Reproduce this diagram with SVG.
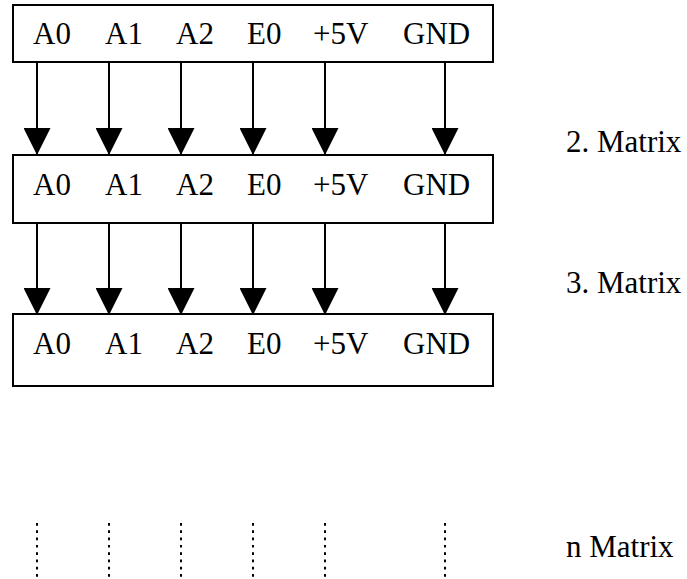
<svg xmlns="http://www.w3.org/2000/svg" width="687" height="579" viewBox="0 0 687 579">
  <style>
    .box { fill: #ffffff; stroke: #000000; stroke-width: 2; }
    .lbl { font-family: 'Liberation Serif', 'Times New Roman', Times, serif; font-size: 31px; fill: #000000; }
    .wire { stroke: #000000; stroke-width: 2; fill: none; }
    .dots { stroke: #000000; stroke-width: 2; stroke-dasharray: 2.7 4.6; fill: none; }
  </style>
  <defs>
    <marker id="head" markerUnits="userSpaceOnUse" markerWidth="27" markerHeight="27" refX="27" refY="13.5" orient="auto" viewBox="0 0 27 27">
      <path d="M0,0 L27,13.5 L0,27 Z" fill="#000000"/>
    </marker>
  </defs>

  <!-- first matrix -->
  <g id="matrix1">
    <rect class="box" x="13" y="5" width="480" height="57"/>
    <text class="lbl" font-family="Liberation Serif" x="33" y="44">A0</text>
    <text class="lbl" font-family="Liberation Serif" x="105" y="44">A1</text>
    <text class="lbl" font-family="Liberation Serif" x="176" y="44">A2</text>
    <text class="lbl" font-family="Liberation Serif" x="247" y="44">E0</text>
    <text class="lbl" font-family="Liberation Serif" x="313" y="44">+5V</text>
    <text class="lbl" font-family="Liberation Serif" x="403" y="44">GND</text>
  </g>

  <!-- second matrix -->
  <g id="matrix2">
    <rect class="box" x="13" y="155" width="480" height="68"/>
    <text class="lbl" font-family="Liberation Serif" x="33" y="195">A0</text>
    <text class="lbl" font-family="Liberation Serif" x="105" y="195">A1</text>
    <text class="lbl" font-family="Liberation Serif" x="176" y="195">A2</text>
    <text class="lbl" font-family="Liberation Serif" x="247" y="195">E0</text>
    <text class="lbl" font-family="Liberation Serif" x="313" y="195">+5V</text>
    <text class="lbl" font-family="Liberation Serif" x="403" y="195">GND</text>
  </g>

  <!-- third matrix -->
  <g id="matrix3">
    <rect class="box" x="13" y="314" width="480" height="72"/>
    <text class="lbl" font-family="Liberation Serif" x="33" y="354">A0</text>
    <text class="lbl" font-family="Liberation Serif" x="105" y="354">A1</text>
    <text class="lbl" font-family="Liberation Serif" x="176" y="354">A2</text>
    <text class="lbl" font-family="Liberation Serif" x="247" y="354">E0</text>
    <text class="lbl" font-family="Liberation Serif" x="313" y="354">+5V</text>
    <text class="lbl" font-family="Liberation Serif" x="403" y="354">GND</text>
  </g>

  <!-- side captions -->
  <g id="captions">
    <text class="lbl" font-family="Liberation Serif" x="566" y="152">2. Matrix</text>
    <text class="lbl" font-family="Liberation Serif" x="566" y="293">3. Matrix</text>
    <text class="lbl" font-family="Liberation Serif" x="566" y="557">n Matrix</text>
  </g>

  <!-- signal connectors -->
  <g id="connectors">
    <line class="wire" x1="37" y1="62" x2="37" y2="155" marker-end="url(#head)"/>
    <line class="wire" x1="109" y1="62" x2="109" y2="155" marker-end="url(#head)"/>
    <line class="wire" x1="181" y1="62" x2="181" y2="155" marker-end="url(#head)"/>
    <line class="wire" x1="253" y1="62" x2="253" y2="155" marker-end="url(#head)"/>
    <line class="wire" x1="325" y1="62" x2="325" y2="155" marker-end="url(#head)"/>
    <line class="wire" x1="445" y1="62" x2="445" y2="155" marker-end="url(#head)"/>

    <line class="wire" x1="37" y1="223" x2="37" y2="315" marker-end="url(#head)"/>
    <line class="wire" x1="109" y1="223" x2="109" y2="315" marker-end="url(#head)"/>
    <line class="wire" x1="181" y1="223" x2="181" y2="315" marker-end="url(#head)"/>
    <line class="wire" x1="253" y1="223" x2="253" y2="315" marker-end="url(#head)"/>
    <line class="wire" x1="325" y1="223" x2="325" y2="315" marker-end="url(#head)"/>
    <line class="wire" x1="445" y1="223" x2="445" y2="315" marker-end="url(#head)"/>

    <line class="dots" x1="37" y1="523" x2="37" y2="578"/>
    <line class="dots" x1="109" y1="523" x2="109" y2="578"/>
    <line class="dots" x1="181" y1="523" x2="181" y2="578"/>
    <line class="dots" x1="253" y1="523" x2="253" y2="578"/>
    <line class="dots" x1="325" y1="523" x2="325" y2="578"/>
    <line class="dots" x1="445" y1="523" x2="445" y2="578"/>
  </g>
</svg>
